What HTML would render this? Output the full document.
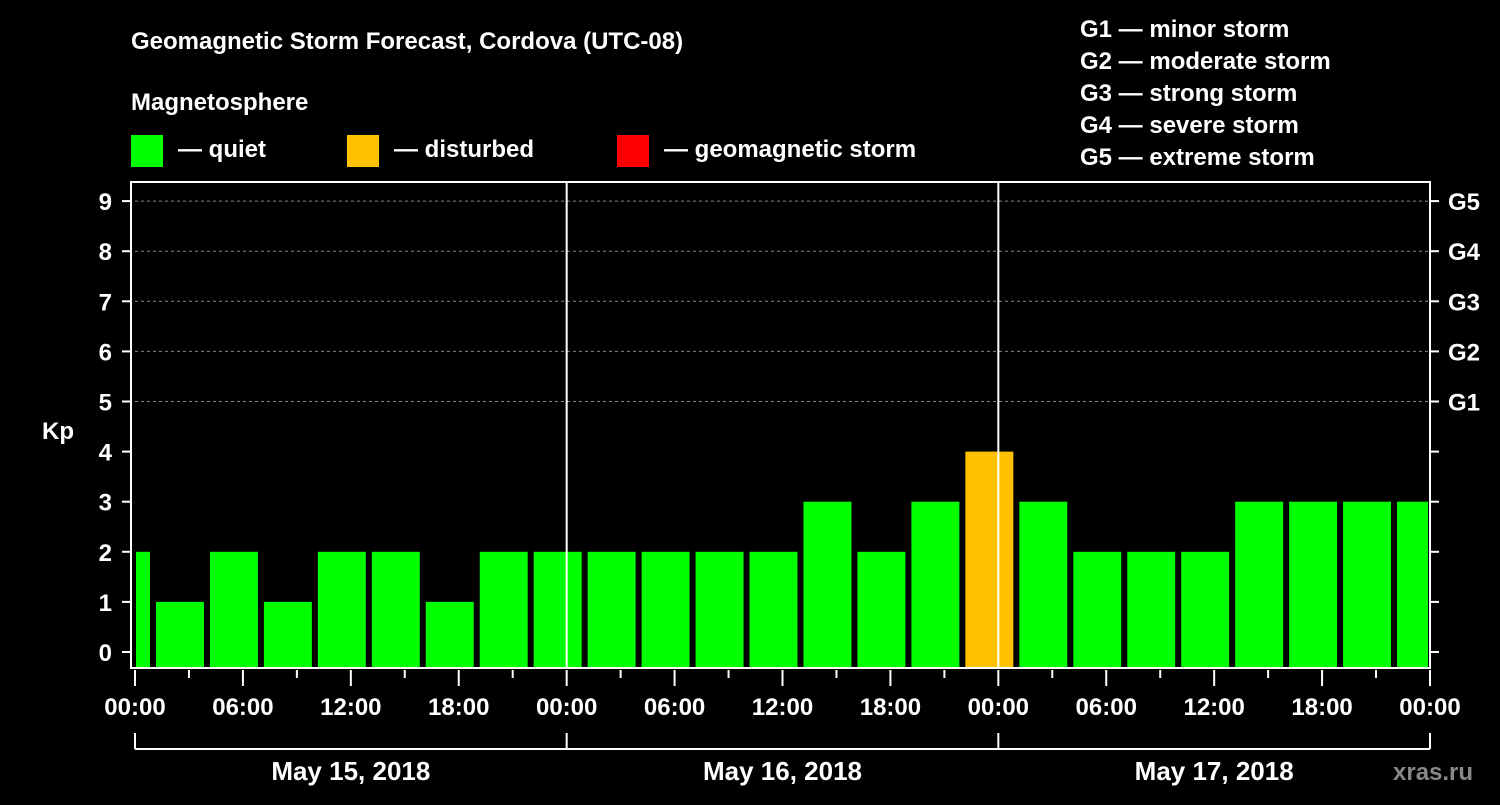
<!DOCTYPE html>
<html><head><meta charset="utf-8"><style>
body{margin:0;background:#000;}
svg text{font-family:"Liberation Sans",Arial,sans-serif;font-weight:bold;fill:#fff;}
</style></head><body>
<svg width="1500" height="800" xmlns="http://www.w3.org/2000/svg">
<rect width="1500" height="800" fill="#000"/>
<text x="131" y="49" font-size="24">Geomagnetic Storm Forecast, Cordova (UTC-08)</text>
<text x="131" y="110" font-size="24">Magnetosphere</text>
<rect x="131" y="135" width="32" height="32" fill="#00ff00"/>
<text x="178" y="157" font-size="24">— quiet</text>
<rect x="347" y="135" width="32" height="32" fill="#ffc000"/>
<text x="394" y="157" font-size="24">— disturbed</text>
<rect x="617" y="135" width="32" height="32" fill="#ff0000"/>
<text x="664" y="157" font-size="24">— geomagnetic storm</text>
<g font-size="24">
<text x="1080" y="37">G1 — minor storm</text>
<text x="1080" y="69">G2 — moderate storm</text>
<text x="1080" y="101">G3 — strong storm</text>
<text x="1080" y="133">G4 — severe storm</text>
<text x="1080" y="165">G5 — extreme storm</text>
</g>
<text x="42" y="439" font-size="24">Kp</text>
<text x="1393" y="780" font-size="24" style="fill:#888">xras.ru</text>
<g id="plot"></g>
</svg>
<script>
const kpValues=[2,1,2,1,2,2,1,2,2,2,2,2,2,3,2,3,4,3,2,2,2,3,3,3,3];
const barCenterHours=[-0.5,2.5,5.5,8.5,11.5,14.5,17.5,20.5,23.5,26.5,29.5,32.5,35.5,38.5,41.5,44.5,47.5,50.5,53.5,56.5,59.5,62.5,65.5,68.5,71.5];
const yTicks=[0,1,2,3,4,5,6,7,8,9];
const gLabels=["G1","G2","G3","G4","G5"];
const xTickLabels=["00:00","06:00","12:00","18:00","00:00","06:00","12:00","18:00","00:00","06:00","12:00","18:00","00:00"];
const dateLabels=["May 15, 2018","May 16, 2018","May 17, 2018"];
const NS="http://www.w3.org/2000/svg";
const g=document.getElementById('plot');
const L=135,R=1430,T=182,B=668;
const x=h=>L+h*(R-L)/72;
const y=v=>652-v*50.1;
function el(tag,attrs,parent){const e=document.createElementNS(NS,tag);for(const k in attrs)e.setAttribute(k,attrs[k]);(parent||g).appendChild(e);return e;}
// grid
yTicks.forEach(v=>{if(v>=5){const ln=el('line',{x1:L,x2:R,y1:y(v),y2:y(v),stroke:'#888','stroke-dasharray':'3,3','stroke-width':1});

}});
// bars
kpValues.forEach((v,i)=>{const c=barCenterHours[i];let x0=Math.max(x(c-1.333),L+1),x1=Math.min(x(c+1.333),R-2);
const col=v>=5?'#ff0000':(v>=4?'#ffc000':'#00ff00');
const r=el('rect',{x:x0,y:y(v),width:x1-x0,height:B-1-y(v),fill:col});

});
// day separators
[24,48].forEach(h=>{const ln=el('line',{x1:x(h),x2:x(h),y1:T,y2:B,stroke:'#fff','stroke-width':2});

});
// frame
const fr=el('rect',{x:131,y:T,width:R-131,height:B-T,fill:'none',stroke:'#fff','stroke-width':2});


// y ticks
yTicks.forEach(v=>{el('line',{x1:122,x2:131,y1:y(v),y2:y(v),stroke:'#fff','stroke-width':2});
el('line',{x1:R,x2:R+9,y1:y(v),y2:y(v),stroke:'#fff','stroke-width':2});
const t=el('text',{x:112,y:y(v)+9,'font-size':24,'text-anchor':'end'});t.textContent=v;

});
gLabels.forEach((s,i)=>{const t=el('text',{x:1448,y:y(i+5)+9,'font-size':24});t.textContent=s;

});
// x ticks
for(let h=0;h<=72;h+=3){const major=h%6===0;el('line',{x1:x(h),x2:x(h),y1:B+2,y2:B+(major?18:10),stroke:'#fff','stroke-width':2});}
xTickLabels.forEach((s,i)=>{const t=el('text',{x:x(i*6),y:715,'font-size':24,'text-anchor':'middle'});t.textContent=s;

});
// date brackets
el('line',{x1:x(0),x2:x(72),y1:749,y2:749,stroke:'#fff','stroke-width':2});
[0,24,48,72].forEach(h=>el('line',{x1:x(h),x2:x(h),y1:733,y2:749,stroke:'#fff','stroke-width':2}));
dateLabels.forEach((s,i)=>{const t=el('text',{x:x(i*24+12),y:780,'font-size':26,'text-anchor':'middle'});t.textContent=s;

});
</script>
</body></html>
